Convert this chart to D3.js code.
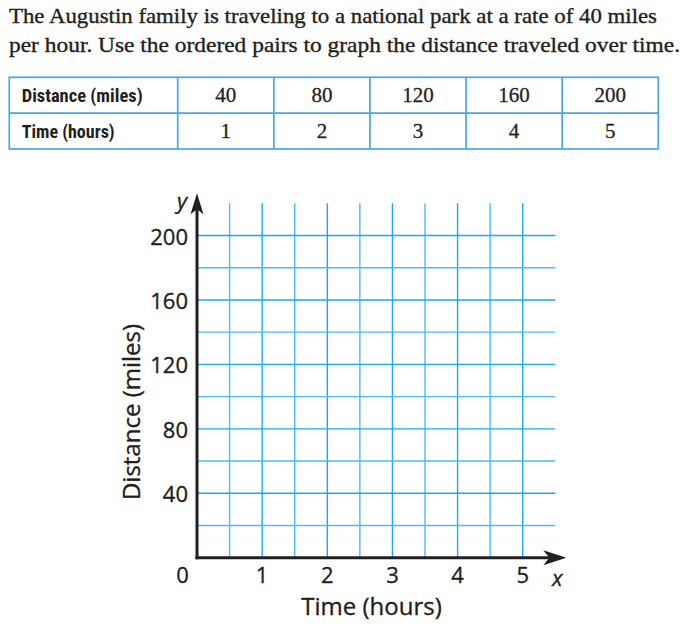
<!DOCTYPE html>
<html>
<head>
<meta charset="utf-8">
<script src="https://cdn.jsdelivr.net/npm/d3@7"></script>
<style>
  html, body { margin: 0; padding: 0; background: #fff; }
  svg { display: block; }
</style>
</head>
<body>
<svg id="chart" width="694" height="643"></svg>
<script>
// ---- Data ----
const titleLines = [
  "The Augustin family is traveling to a national park at a rate of 40 miles",
  "per hour. Use the ordered pairs to graph the distance traveled over time."
];
const rowLabels = ["Distance (miles)", "Time (hours)"];
const distances = [40, 80, 120, 160, 200];
const times = [1, 2, 3, 4, 5];
const xTicks = [1, 2, 3, 4, 5];
const yTicks = [40, 80, 120, 160, 200];
const xGrid = [0.5, 1, 1.5, 2, 2.5, 3, 3.5, 4, 4.5, 5];
const yGrid = [20, 40, 60, 80, 100, 120, 140, 160, 180, 200];
const xLabel = "Time (hours)";
const yLabel = "Distance (miles)";

// ---- Setup ----
const svg = d3.select("#chart");
const ink = "#231f20";
const gridBlue = "#1aaae6";
const gridLight = "#4cbcec";
const tableBlue = "#45a9dc";

// ---- Title ----
const titleWidths = [648, 671];
svg.append("g").selectAll("text").data(titleLines).join("text")
  .attr("x", 9)
  .attr("y", (d, i) => 22.5 + i * 29.5)
  .attr("textLength", (d, i) => titleWidths[i])
  .attr("lengthAdjust", "spacingAndGlyphs")
  .style("font-family", "'Liberation Serif', 'Times New Roman', serif")
  .style("font-size", "21px")
  .style("fill", ink)
  .style("stroke", ink).style("stroke-width", 0.35)
  .text(d => d);

// ---- Table ----
const tLeft = 9.3, tRight = 658.3, tTop = 77.3, tBottom = 149;
const firstColRight = 177.7;
const colScale = d3.scaleBand().domain(d3.range(distances.length)).range([firstColRight, tRight]);
const rowScale = d3.scaleBand().domain(d3.range(rowLabels.length)).range([tTop, tBottom]);
const tbl = svg.append("g");
tbl.append("rect")
  .attr("x", tLeft).attr("y", tTop)
  .attr("width", tRight - tLeft).attr("height", tBottom - tTop)
  .attr("fill", "none").attr("stroke", tableBlue).attr("stroke-width", 1.7);
tbl.selectAll("line.row").data(d3.range(1, rowLabels.length)).join("line")
  .attr("class", "row")
  .attr("x1", tLeft).attr("x2", tRight)
  .attr("y1", d => rowScale(d)).attr("y2", d => rowScale(d))
  .attr("stroke", tableBlue).attr("stroke-width", 1.7);
tbl.selectAll("line.col").data(d3.range(distances.length)).join("line")
  .attr("class", "col")
  .attr("x1", d => colScale(d)).attr("x2", d => colScale(d))
  .attr("y1", tTop).attr("y2", tBottom)
  .attr("stroke", tableBlue).attr("stroke-width", 1.7);
const labelWidths = [121, 93];
tbl.selectAll("text.lab").data(rowLabels).join("text")
  .attr("class", "lab")
  .attr("x", 21.7)
  .attr("y", (d, i) => rowScale(i) + rowScale.bandwidth() / 2 + 6.5)
  .attr("textLength", (d, i) => labelWidths[i])
  .attr("lengthAdjust", "spacingAndGlyphs")
  .style("font-family", "'Liberation Sans Narrow', 'Roboto Condensed', 'Arial Narrow', 'Liberation Sans', sans-serif")
  .style("font-weight", "bold")
  .style("font-size", "18px")
  .style("fill", ink)
  .text(d => d);
const rowsData = [distances, times];
rowsData.forEach((vals, r) => {
  tbl.append("g").selectAll("text").data(vals).join("text")
    .attr("x", (d, i) => colScale(i) + colScale.bandwidth() / 2)
    .attr("y", rowScale(r) + rowScale.bandwidth() / 2 + 7)
    .attr("text-anchor", "middle")
    .style("font-family", "'Liberation Serif', 'Times New Roman', serif")
    .style("font-size", "21px")
    .style("fill", ink)
    .style("stroke", ink).style("stroke-width", 0.3)
    .text(d => d);
});

// ---- Graph ----
const x = d3.scaleLinear().domain([0, 5.5]).range([197, 555.3]);
const y = d3.scaleLinear().domain([0, 220]).range([557.7, 203.3]);
const g = svg.append("g");

g.append("g").selectAll("line").data(xGrid).join("line")
  .attr("x1", d => x(d)).attr("x2", d => x(d))
  .attr("y1", y(0)).attr("y2", y(220))
  .attr("stroke", d => Number.isInteger(d) ? gridBlue : gridLight)
  .attr("stroke-width", 1.4);
g.append("g").selectAll("line").data(yGrid).join("line")
  .attr("x1", x(0)).attr("x2", x(5.5))
  .attr("y1", d => y(d)).attr("y2", d => y(d))
  .attr("stroke", d => d % 40 === 0 ? gridBlue : gridLight)
  .attr("stroke-width", 1.4);

const xTip = x(5.5) + 11, yTip = y(220) - 10;
g.append("line")
  .attr("x1", x(0) - 1.5).attr("x2", xTip - 10)
  .attr("y1", y(0)).attr("y2", y(0))
  .attr("stroke", ink).attr("stroke-width", 3);
g.append("line")
  .attr("x1", x(0)).attr("x2", x(0))
  .attr("y1", y(0) + 1.5).attr("y2", yTip + 10)
  .attr("stroke", ink).attr("stroke-width", 3);
g.append("path")
  .attr("d", `M${xTip},${y(0)} L${xTip - 23},${y(0) - 7.5} L${xTip - 17},${y(0)} L${xTip - 23},${y(0) + 7.5} Z`)
  .attr("fill", ink);
g.append("path")
  .attr("d", `M${x(0)},${yTip} L${x(0) - 6.5},${yTip + 21} L${x(0)},${yTip + 16} L${x(0) + 6.5},${yTip + 21} Z`)
  .attr("fill", ink);

const sans = "'Open Sans', 'Noto Sans', sans-serif";
function styleSans(sel, size) {
  sel.style("font-family", sans).style("font-size", size).style("fill", ink)
     .style("stroke", ink).style("stroke-width", 0.35);
}
g.append("g").selectAll("text").data(xTicks).join("text")
  .attr("x", d => x(d))
  .attr("y", y(0) + 25)
  .attr("text-anchor", "middle")
  .call(styleSans, "22px")
  .text(d => d);
g.append("text")
  .attr("x", x(0) - 14.5).attr("y", y(0) + 25)
  .attr("text-anchor", "middle")
  .call(styleSans, "22px")
  .text("0");
g.append("g").selectAll("text").data(yTicks).join("text")
  .attr("x", x(0) - 9)
  .attr("y", d => y(d) + 9)
  .attr("text-anchor", "end")
  .call(styleSans, "22px")
  .text(d => d);
g.append("text")
  .attr("x", xTip - 9).attr("y", y(0) + 28)
  .attr("text-anchor", "middle")
  .call(styleSans, "22px")
  .style("font-style", "italic")
  .text("x");
g.append("text")
  .attr("x", x(0) - 15).attr("y", yTip + 16)
  .attr("text-anchor", "middle")
  .call(styleSans, "22px")
  .style("font-style", "italic")
  .text("y");
g.append("text")
  .attr("x", 371.5).attr("y", 615)
  .attr("text-anchor", "middle")
  .call(styleSans, "24px")
  .text(xLabel);
g.append("text")
  .attr("transform", "translate(140,412) rotate(-90)")
  .attr("text-anchor", "middle")
  .call(styleSans, "24px")
  .text(yLabel);
</script>
</body>
</html>
